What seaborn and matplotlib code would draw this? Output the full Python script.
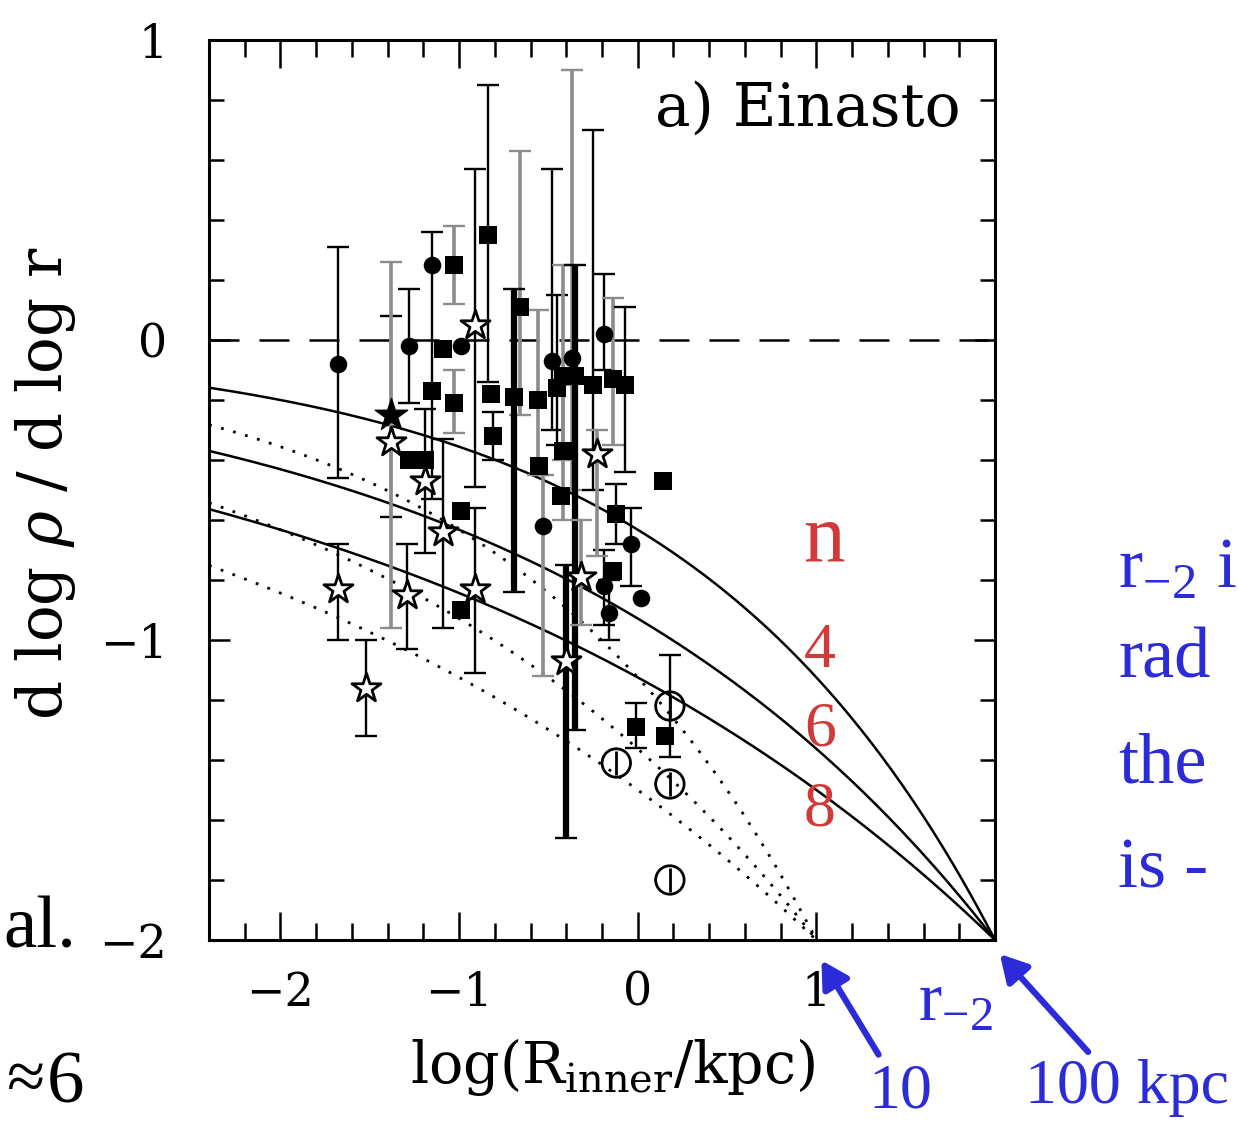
import numpy as np
import pandas as pd
import matplotlib
matplotlib.use("Agg")
import matplotlib.pyplot as plt
import seaborn as sns

# ---------------------------------------------------------------
# Einasto model: d log rho / d log r = -2 (r / r_-2)^(1/n)
# ---------------------------------------------------------------
n_index = [4, 6, 8]
log_r2_solid = 2.0    # r_-2 = 100 kpc
log_r2_dotted = 1.0   # r_-2 = 10 kpc
x_start = -2.4

# ---------------------------------------------------------------
# measured inner slopes (value, lower bound, upper bound, bar tone)
# tone: k = thin black, K = thick black, g = grey
# ---------------------------------------------------------------
circ_x = [-1.68, -1.28, -1.15, -0.99, -0.48, -0.19, -0.53, -0.04, 0.02, -0.19, -0.16, -0.37]
circ_y = [-0.08, -0.02, 0.25, -0.02, -0.07, 0.02, -0.62, -0.68, -0.86, -0.82, -0.91, -0.06]
circ_lo = [-0.46, -0.21, -0.53, np.nan, -0.30, -0.10, -1.12, -0.82, np.nan, -0.95, -1.00, -0.50]
circ_hi = [0.31, 0.17, 0.36, np.nan, 0.57, 0.22, -0.45, -0.56, np.nan, -0.70, -0.80, 0.90]
circ_tone = ["k", "k", "k", "k", "k", "k", "g", "k", "k", "k", "k", "g"]

sq_x = [-1.28, -1.15, -1.03, -1.03, -1.09, -1.19, -0.84, -0.82, -0.81, -0.99, -0.99, -0.66,
        -0.69, -0.56, -0.45, -0.55, -0.42, -0.43, -0.42, -0.25, -0.14, -0.07, -0.12, 0.14,
        -0.14, -0.01, 0.15, -0.35]
sq_y = [-0.40, -0.17, 0.25, -0.21, -0.03, -0.40, 0.35, -0.18, -0.32, -0.57, -0.90, 0.11,
        -0.19, -0.20, -0.16, -0.42, -0.37, -0.52, -0.12, -0.15, -0.13, -0.15, -0.58, -0.47,
        -0.77, -1.29, -1.32, -0.12]
sq_lo = [np.nan, np.nan, 0.12, -0.31, np.nan, np.nan, -0.14, np.nan, -0.40, np.nan, np.nan, -0.25,
         -0.84, -0.45, -0.35, np.nan, -0.60, np.nan, -0.40, -0.50, -0.35, -0.44, -0.68, np.nan,
         np.nan, -1.36, np.nan, -1.30]
sq_hi = [np.nan, np.nan, 0.38, -0.10, np.nan, np.nan, 0.85, np.nan, -0.24, np.nan, np.nan, 0.63,
         0.17, 0.10, 0.15, np.nan, -0.15, np.nan, 0.25, 0.70, 0.14, 0.11, -0.48, np.nan,
         np.nan, -1.21, np.nan, 0.25]
sq_tone = ["k", "k", "g", "g", "k", "k", "k", "k", "k", "k", "k", "g",
           "K", "g", "k", "k", "g", "k", "g", "k", "g", "k", "k", "k",
           "k", "k", "k", "K"]

ostar_x = [-1.38, -1.19, -1.09, -0.91, -0.91, -1.29, -1.68, -1.52, -0.23, -0.32, -0.40]
ostar_y = [-0.34, -0.47, -0.64, 0.05, -0.83, -0.85, -0.83, -1.16, -0.38, -0.79, -1.07]
ostar_lo = [-0.59, -0.71, -0.96, -0.49, -1.11, -1.03, -1.00, -1.32, -0.72, -0.95, -1.66]
ostar_hi = [0.08, -0.23, -0.33, 0.57, -0.56, -0.68, -0.68, -1.00, -0.30, -0.60, -0.75]
ostar_tone = ["k", "k", "k", "k", "k", "k", "k", "k", "g", "g", "K"]

fstar_x = [-1.38]
fstar_y = [-0.25]
fstar_lo = [-0.96]
fstar_hi = [0.26]
fstar_tone = ["g"]

ocirc_x = [0.18, -0.12, 0.18, 0.18]
ocirc_y = [-1.22, -1.41, -1.48, -1.80]
ocirc_lo = [-1.39, np.nan, np.nan, np.nan]
ocirc_hi = [-1.05, np.nan, np.nan, np.nan]
ocirc_tone = ["k", "k", "k", "k"]

x_ticks = [-2, -1, 0, 1, 2]
x_ticklabels = ["\u22122", "\u22121", "0", "1", ""]
y_ticks = [-2, -1, 0, 1]
y_ticklabels = ["\u22122", "\u22121", "0", "1"]

# ---------------------------------------------------------------
sns.set_theme(style="ticks")
plt.rcParams["font.family"] = ["DejaVu Serif"]
plt.rcParams["mathtext.fontset"] = "dejavuserif"
for key in ("text.color", "axes.labelcolor", "xtick.color", "ytick.color",
            "axes.edgecolor"):
    plt.rcParams[key] = "black"

W, H = 1238, 1121
fig = plt.figure(figsize=(W / 100, H / 100), dpi=100)
ax = fig.add_axes([209 / W, 1 - 940 / H, (995 - 209) / W, (940 - 40) / H])

# model curves
rows = []
for style, lr2 in (("solid", log_r2_solid), ("dotted", log_r2_dotted)):
    xs = np.linspace(x_start, lr2, 300)
    for n in n_index:
        slope = -2.0 * (10.0 ** (xs - lr2)) ** (1.0 / n)
        rows.append(pd.DataFrame({"x": xs, "slope": slope, "n": n, "kind": style}))
curves = pd.concat(rows, ignore_index=True)

for (kind, n), grp in curves.groupby(["kind", "n"]):
    sns.lineplot(data=grp, x="x", y="slope", ax=ax, color="black",
                 lw=1.8 if kind == "solid" else 2.0,
                 linestyle="-" if kind == "solid" else (0, (1, 3.5)),
                 sort=False, estimator=None, zorder=2)

ax.axhline(0, color="black", lw=1.8, linestyle=(0, (12, 8)), zorder=1)

# error bars
bar_style = {"k": dict(color="black", lw=1.7), "K": dict(color="black", lw=4.5),
             "g": dict(color="#8c8c8c", lw=2.6)}


def draw_bars(xv, yv, lo, hi, tone):
    for xi, yi, l, h, t in zip(xv, yv, lo, hi, tone):
        if np.isnan(l):
            continue
        st = bar_style[t]
        ax.errorbar([xi], [yi], yerr=[[yi - l], [h - yi]], fmt="none",
                    ecolor=st["color"], elinewidth=st["lw"], capsize=8,
                    capthick=1.7, zorder=3)


draw_bars(circ_x, circ_y, circ_lo, circ_hi, circ_tone)
draw_bars(sq_x, sq_y, sq_lo, sq_hi, sq_tone)
draw_bars(ostar_x, ostar_y, ostar_lo, ostar_hi, ostar_tone)
draw_bars(fstar_x, fstar_y, fstar_lo, fstar_hi, fstar_tone)
draw_bars(ocirc_x, ocirc_y, ocirc_lo, ocirc_hi, ocirc_tone)

pts = pd.concat([
    pd.DataFrame({"x": circ_x, "y": circ_y, "kind": "circle"}),
    pd.DataFrame({"x": sq_x, "y": sq_y, "kind": "square"}),
    pd.DataFrame({"x": ostar_x, "y": ostar_y, "kind": "ostar"}),
    pd.DataFrame({"x": fstar_x, "y": fstar_y, "kind": "fstar"}),
    pd.DataFrame({"x": ocirc_x, "y": ocirc_y, "kind": "ocirc"}),
], ignore_index=True)

sns.scatterplot(data=pts[pts.kind == "circle"], x="x", y="y", ax=ax, marker="o",
                s=160, color="black", edgecolor="black", linewidth=0, zorder=4)
sns.scatterplot(data=pts[pts.kind == "square"], x="x", y="y", ax=ax, marker="s",
                s=170, color="black", edgecolor="black", linewidth=0, zorder=4)
sns.scatterplot(data=pts[pts.kind == "ostar"], x="x", y="y", ax=ax, marker="*",
                s=480, facecolor="white", edgecolor="black", linewidth=2.0, zorder=5)
sns.scatterplot(data=pts[pts.kind == "fstar"], x="x", y="y", ax=ax, marker="*",
                s=600, color="black", edgecolor="black", linewidth=1, zorder=5)
sns.scatterplot(data=pts[pts.kind == "ocirc"], x="x", y="y", ax=ax, marker="o",
                s=420, facecolor="none", edgecolor="black", linewidth=2.0, zorder=5)
sns.scatterplot(data=pts[pts.kind == "ocirc"], x="x", y="y", ax=ax, marker="|",
                s=320, color="black", linewidth=2.0, zorder=5)

# axes cosmetics
ax.set_xlim(-2.4, 2.0)
ax.set_ylim(-2.0, 1.0)
ax.set_xticks(x_ticks)
ax.set_xticklabels(x_ticklabels)
ax.set_yticks(y_ticks)
ax.set_yticklabels(y_ticklabels)
ax.xaxis.set_minor_locator(matplotlib.ticker.MultipleLocator(0.2))
ax.yaxis.set_minor_locator(matplotlib.ticker.MultipleLocator(0.2))
ax.tick_params(axis="both", which="both", direction="in", top=True, right=True,
               color="black", labelcolor="black", width=1.8, labelsize=33)
ax.tick_params(axis="x", which="major", length=20, pad=22)
ax.tick_params(axis="x", which="minor", length=12)
ax.tick_params(axis="y", which="major", length=15, pad=30)
ax.tick_params(axis="y", which="minor", length=11)
for sp in ax.spines.values():
    sp.set_visible(True)
    sp.set_linewidth(2.2)
    sp.set_color("black")

ax.set_xlabel(r"log(R$_{\rm inner}$/kpc)", fontsize=41, color="black")
ax.xaxis.set_label_coords((612 - 209) / (995 - 209), -(1036 - 940) / 900)
ax.set_ylabel(r"d log $\rho$ / d log r", fontsize=44, color="black")
ax.yaxis.set_label_coords(-(209 - 78) / 786, (940 - 483) / 900)

ax.text(1.81, 0.77, "a) Einasto", fontsize=43, ha="right", va="center")

# n labels beside the curves
red = "#d23a3a"
ax.text(1.04, -0.67, "n", fontsize=60, color=red, ha="center", va="center",
        family="Liberation Serif")
for n, yy in zip(n_index, [-1.04, -1.30, -1.57]):
    ax.text(1.02, yy, str(n), fontsize=46, color=red, ha="center", va="center",
            family="Liberation Serif")

# slide annotations
blue = "#2b2bd8"
fig.text(900 / W, 1 - 1093 / H, "10", fontsize=46, color=blue, ha="center", va="center",
         family="Liberation Serif")
fig.text(1127 / W, 1 - 1088 / H, "100 kpc", fontsize=46, color=blue, ha="center", va="center",
         family="Liberation Serif")
fig.text(955 / W, 1 - 1003 / H, r"r$_{\mathregular{-2}}$", fontsize=50, color=blue,
         ha="center", va="center", family="Liberation Serif")
for tail, head in (((880, 1057), (820, 958)), ((1090, 1054), (998, 952))):
    fig.patches.append(matplotlib.patches.FancyArrowPatch(
        (tail[0] / W, 1 - tail[1] / H), (head[0] / W, 1 - head[1] / H),
        transform=fig.transFigure, arrowstyle="-|>,head_length=16,head_width=9",
        color=blue, lw=4.5, mutation_scale=1))

for txt, yy in ((r"r$_{\mathregular{-2}}$ i", 570), ("rad", 660), ("the", 765), ("is -", 870)):
    fig.text(1118 / W, 1 - yy / H, txt, fontsize=52, color=blue, ha="left", va="center",
             family="Liberation Serif")

fig.text(76 / W, 1 - 930 / H, "al.", fontsize=54, color="black", ha="right", va="center",
         family="Liberation Serif")
fig.text(6 / W, 1 - 1082 / H, "\u2248", fontsize=50, color="black", ha="left", va="center",
         family="Liberation Serif")
fig.text(66 / W, 1 - 1085 / H, "6", fontsize=54, color="black", ha="center", va="center",
         family="Liberation Serif")

fig.savefig("out.png", dpi=100, facecolor="white")
